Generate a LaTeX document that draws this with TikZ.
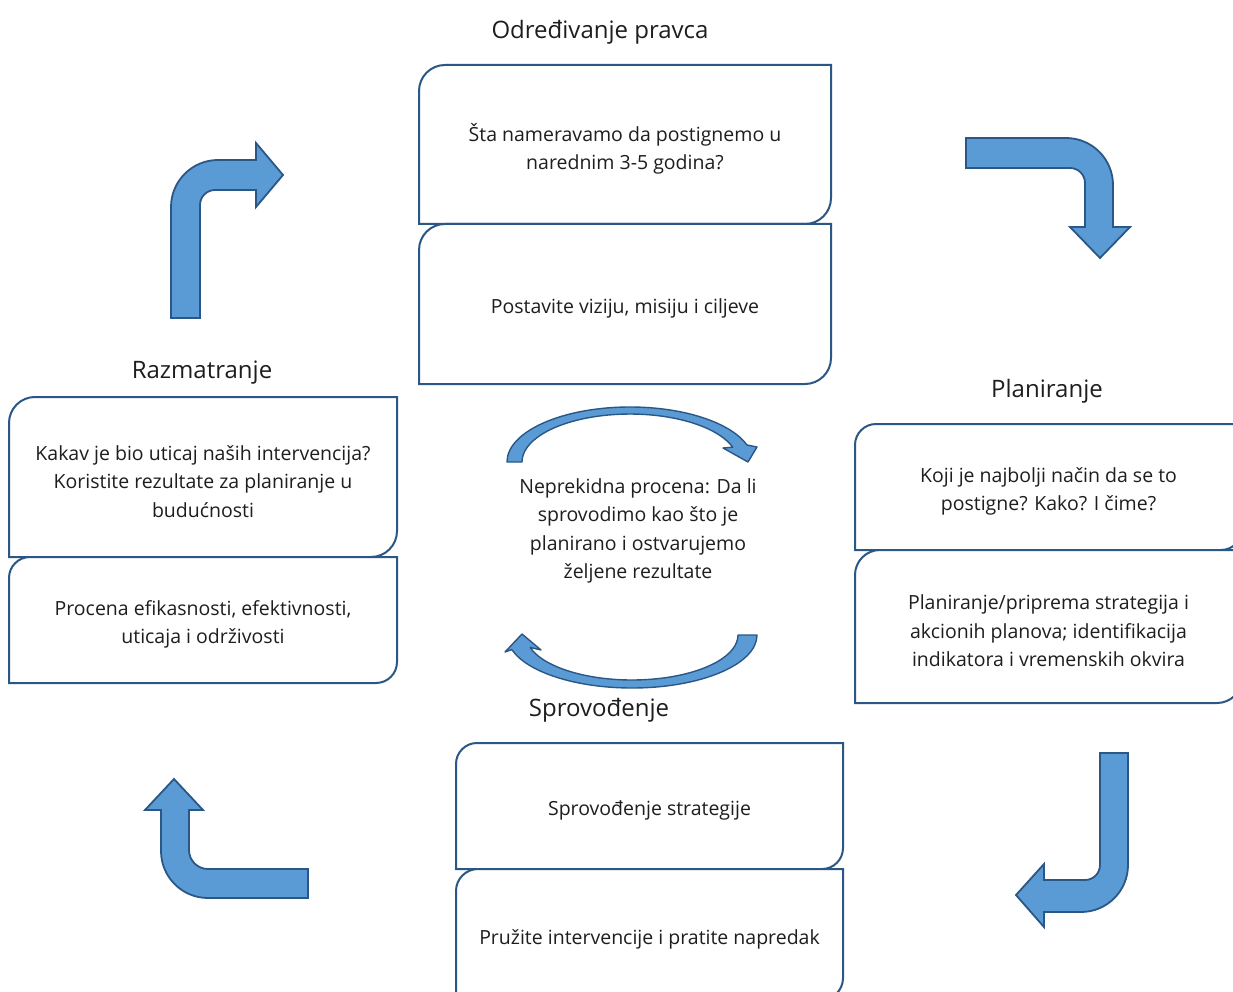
\documentclass[tikz,border=0pt]{standalone}
\usepackage{fontspec}
\setmainfont{Open Sans}
\definecolor{edge}{HTML}{2A5785}
\definecolor{arrowfill}{HTML}{5B9BD5}
\definecolor{txt}{HTML}{1E1E1E}
\tikzset{
  boxline/.style={draw=edge, line width=2pt, fill=white},
  boxtext/.style={align=center, text=txt, font=\fontsize{19.5}{28.5}\selectfont, inner sep=0pt},
  titletext/.style={text=txt, font=\fontsize{24}{30}\selectfont, inner sep=0pt},
  bentarrow/.style={draw=edge, line width=1.8pt, fill=arrowfill, line join=miter},
  curvearrow/.style={draw=edge, line width=1.4pt, fill=arrowfill, line join=round}
}
\newcommand\rrbox[7]{%
  \draw[boxline] (#2,-#5) -- (#2,{-(#3+#6)}) arc[start angle=180,end angle=90,radius=#6]
    -- (#4,-#3) -- (#4,{-(#5-#6)}) arc[start angle=0,end angle=-90,radius=#6] -- cycle;
  \node[boxtext] (#1) at ({(#2+#4)/2},{-(#3+#5)/2-4.5}) {#7};}
\begin{document}
\begin{tikzpicture}[x=1pt,y=1pt]
\useasboundingbox (0,0) rectangle (1233,-992);
\clip (0,0) rectangle (1233,-992);
\fill[white] (0,0) rectangle (1233,-992);

% titles
\node[titletext] (t1) at (600,-32) {Određivanje pravca};
\node[titletext] (t2) at (202,-372.5) {Razmatranje};
\node[titletext] (t3) at (1047,-391.5) {Planiranje};
\node[titletext] (t4) at (599,-710.5) {Sprovođenje};

% top group
\rrbox{b1}{419}{65}{831}{224}{26}{Šta nameravamo da postignemo u\\ narednim 3-5 godina?}
\rrbox{b2}{419}{224}{831}{384}{26}{Postavite viziju, misiju i ciljeve}

% left group
\rrbox{b3}{9}{397}{397}{557}{26}{Kakav je bio uticaj naših intervencija?\\ Koristite rezultate za planiranje u\\ budućnosti}
\rrbox{b4}{9}{557}{397}{683}{21}{Procena efikasnosti, efektivnosti,\\ uticaja i održivosti}

% right group
\rrbox{b5}{855}{424}{1242}{550}{21}{Koji je najbolji način da se to\\ postigne? Kako? I čime?}
\rrbox{b6}{855}{550}{1242}{703}{25}{Planiranje/priprema strategija i\\ akcionih planova; identifikacija\\ indikatora i vremenskih okvira}

% bottom group
\rrbox{b7}{456}{743}{843}{869}{21}{Sprovođenje strategije}
\rrbox{b8}{456}{869}{843}{1000}{22}{Pružite intervencije i pratite napredak}

% centre text
\node[boxtext] (c) at (638,-531) {Neprekidna procena: Da li\\ sprovodimo kao što je\\ planirano i ostvarujemo\\ željene rezultate};

% circular arrows
\draw[curvearrow] (507,-462) arc[start angle=180,end angle=18,x radius=123,y radius=55]
  -- (757,-447) -- (748,-462) -- (723,-448)
  -- (732.7,-447.2) arc[start angle=18,end angle=180,x radius=108,y radius=48] -- cycle;
\draw[curvearrow] (757,-635) arc[start angle=0,end angle=-164,x radius=125,y radius=53]
  -- (505,-652) -- (522,-634) -- (541,-650)
  -- (530.1,-647.4) arc[start angle=-164,end angle=0,x radius=106,y radius=45] -- cycle;

% bent arrows
\draw[bentarrow] (171,-318) -- (171,-207) arc[start angle=180,end angle=90,radius=47]
  -- (256,-160) -- (256,-143) -- (283,-175) -- (256,-207) -- (256,-190)
  -- (215,-190) arc[start angle=90,end angle=180,radius=15] -- (200,-318) -- cycle;
\draw[bentarrow] (966,-138) -- (1066,-138) arc[start angle=90,end angle=0,radius=47]
  -- (1113,-227) -- (1130,-227) -- (1100,-258) -- (1070,-227) -- (1085,-227)
  -- (1085,-183) arc[start angle=0,end angle=90,radius=15] -- (966,-168) -- cycle;
\draw[bentarrow] (1100,-753) -- (1128,-753) -- (1128,-865) arc[start angle=0,end angle=-90,radius=47]
  -- (1044,-912) -- (1044,-927) -- (1016,-895) -- (1044,-864) -- (1044,-880)
  -- (1085,-880) arc[start angle=-90,end angle=0,radius=15] -- cycle;
\draw[bentarrow] (308,-869) -- (208,-869) arc[start angle=-90,end angle=-180,radius=19]
  -- (189,-810) -- (203,-810) -- (174,-779) -- (145,-810) -- (161,-810)
  -- (161,-851) arc[start angle=180,end angle=270,radius=47] -- (308,-898) -- cycle;
\end{tikzpicture}
\end{document}
